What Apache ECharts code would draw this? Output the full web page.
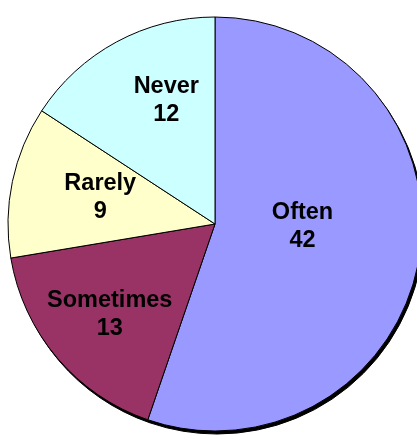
<!DOCTYPE html>
<html>
<head>
<meta charset="utf-8">
<script src="https://cdn.jsdelivr.net/npm/echarts@6/dist/echarts.min.js"></script>
<style>
  html, body { margin: 0; padding: 0; background: #ffffff; overflow: hidden; }
  #chart { width: 417px; height: 437px; }
</style>
</head>
<body>
<div id="chart"></div>
<script>
const categories = ['Often', 'Sometimes', 'Rarely', 'Never'];
const counts = [42, 13, 9, 12];
const sliceColors = ['#9999ff', '#993366', '#ffffcc', '#ccffff'];

// per-slice nudges of the inside labels (px)
const labelShift = [[-17.5, -15], [-24, 22], [-10.5, -5], [2, -29.5]];

const slices = categories.map((name, i) => ({
  name: name,
  value: counts[i],
  itemStyle: { color: sliceColors[i] }
}));

const chart = echarts.init(document.getElementById('chart'), null, { renderer: 'canvas' });

const center = [215, 224];
const radius = 207;

chart.setOption({
  animation: false,
  series: [
    {
      // hard black drop shadow under the whole pie
      type: 'pie',
      silent: true,
      center: [center[0] + 2, center[1] + 3],
      radius: radius,
      startAngle: 90,
      clockwise: true,
      label: { show: false },
      labelLine: { show: false },
      itemStyle: { color: '#000000', borderColor: '#000000', borderWidth: 1 },
      data: categories.map((name, i) => ({ name: name, value: counts[i] })),
      z: 1
    },
    {
      type: 'pie',
      center: center,
      radius: radius,
      startAngle: 90,
      clockwise: true,
      avoidLabelOverlap: false,
      itemStyle: { borderColor: '#000000', borderWidth: 1 },
      label: {
        show: true,
        position: 'inside',
        formatter: '{b}\n{c}',
        color: '#000000',
        fontFamily: '"Liberation Sans", Arial, sans-serif',
        fontWeight: 'bold',
        fontSize: 23.5,
        lineHeight: 28,
        align: 'center'
      },
      labelLayout: function (params) {
        const s = labelShift[params.dataIndex];
        return { dx: s[0], dy: s[1] };
      },
      labelLine: { show: false },
      emphasis: { disabled: true },
      data: slices,
      z: 2
    }
  ]
});
</script>
</body>
</html>
